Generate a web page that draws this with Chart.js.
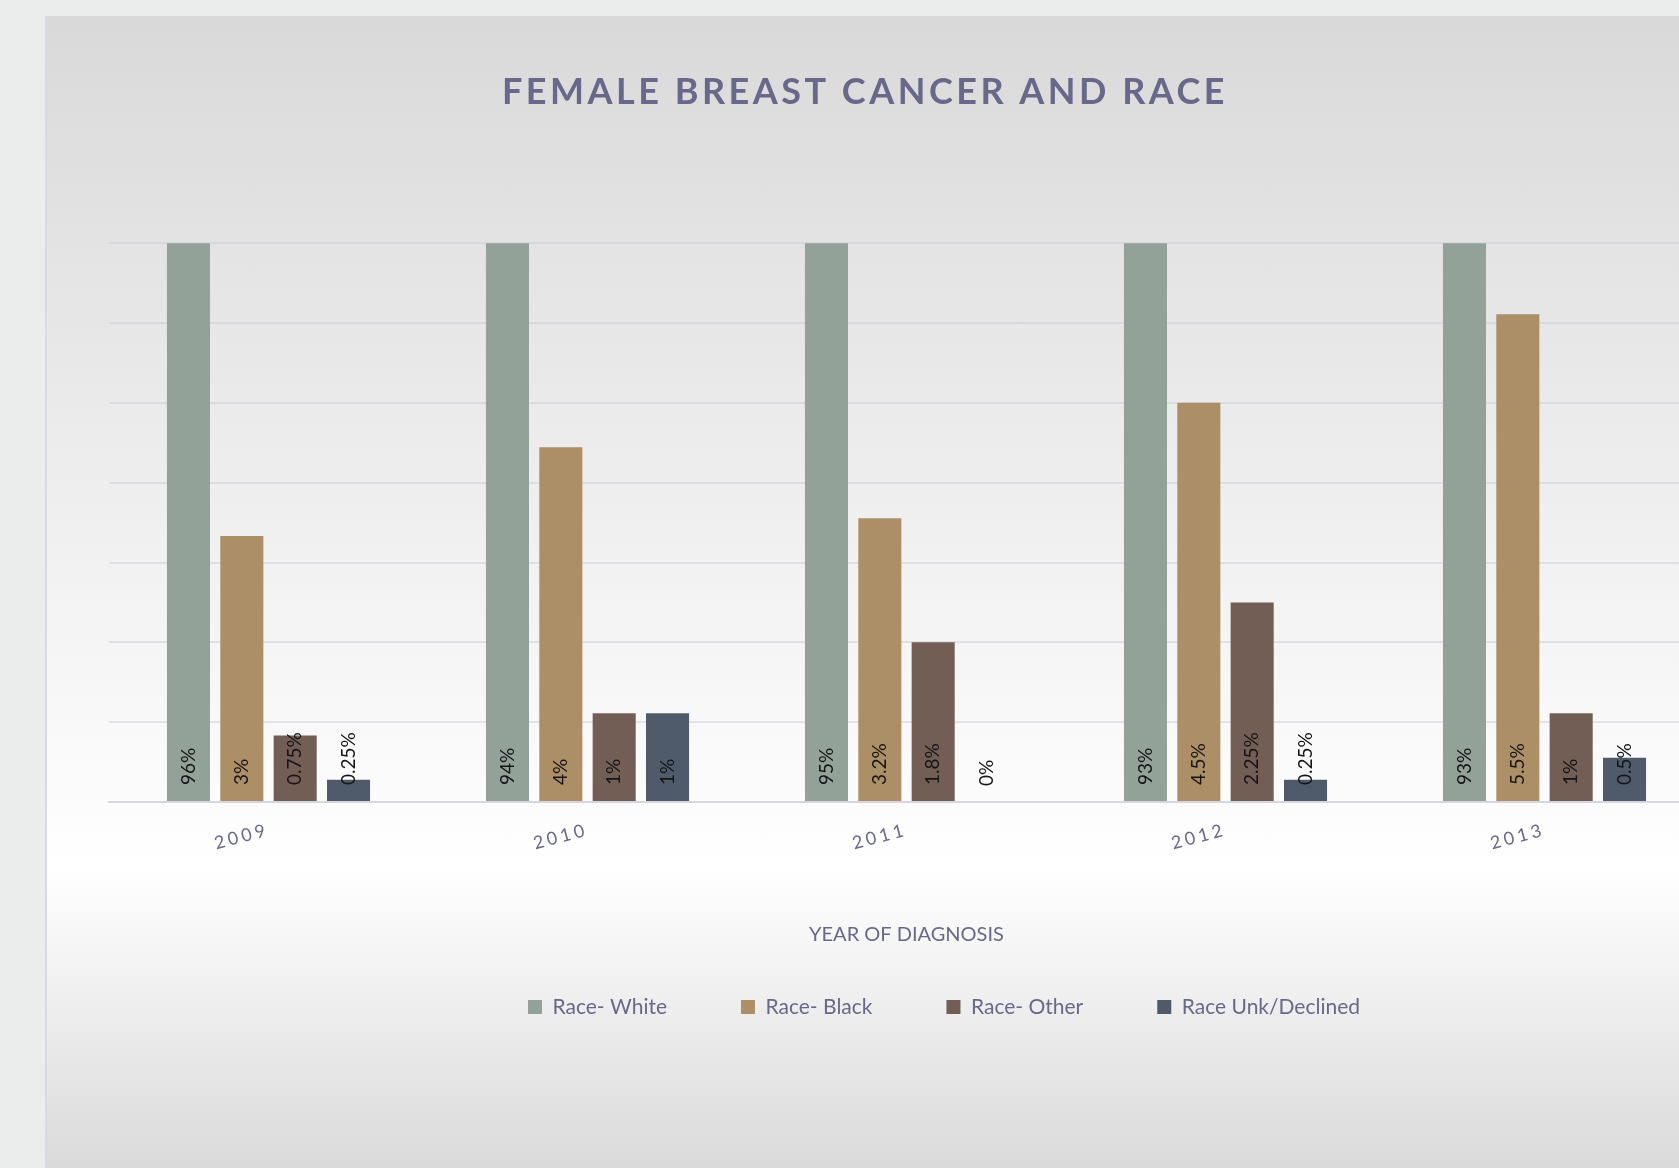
<!DOCTYPE html>
<html>
<head>
<meta charset="utf-8">
<title>Female Breast Cancer and Race</title>
<script src="https://cdn.jsdelivr.net/npm/chart.js@4.4.1/dist/chart.umd.min.js"></script>
<style>
  html, body { margin: 0; padding: 0; width: 1679px; height: 1168px; overflow: hidden; background: #eaedeb; }
  #panel {
    position: absolute; left: 45px; top: 16px; width: 1702px; height: 1152px;
    border-left: 2px solid #d9d9e3;
    background: linear-gradient(to bottom, #d9d9d9 0%, #ffffff 74%, #dadada 100%);
  }
  #wrap { position: absolute; left: 0; top: 0; width: 1700px; height: 1152px; }
</style>
</head>
<body>
<div id="panel"><div id="wrap"><canvas id="chart" width="1700" height="1152"></canvas></div></div>
<script>
// Year of diagnosis
const years = ['2009', '2010', '2011', '2012', '2013'];

// Share of cases per race group, in percent
const raceWhite = [96, 94, 95, 93, 93];
const raceBlack = [3, 4, 3.2, 4.5, 5.5];
const raceOther = [0.75, 1, 1.8, 2.25, 1];
const raceUnk   = [0.25, 1, 0, 0.25, 0.5];

const seriesNames = ['Race- White', 'Race- Black', 'Race- Other', 'Race Unk/Declined'];
const seriesValues = [raceWhite, raceBlack, raceOther, raceUnk];
const seriesColors = ['#93a299', '#ad8f67', '#725e55', '#4f5b6b'];

const INK = '#68688a';
const FONT = 'Lato, "Open Sans", sans-serif';

// Wraps a drawing method so its text is drawn with extra letter spacing.
function withSpacing(obj, method, px) {
  const flag = '_spaced_' + method;
  if (obj[flag]) return;
  const orig = obj[method];
  obj[method] = function (...args) {
    const c = this.ctx;
    const prev = c.letterSpacing;
    c.letterSpacing = px + 'px';
    try { return orig.apply(this, args); } finally { c.letterSpacing = prev; }
  };
  obj[flag] = true;
}

// Moves the title and legend boxes and spaces out the title / year labels.
const boxTweaks = {
  id: 'boxTweaks',
  afterLayout(chart, args, o) {
    const t = chart.titleBlock;
    if (t) {
      t.left += o.titleShift; t.right += o.titleShift;
      withSpacing(t, 'draw', o.titleSpacing);
    }
    const lg = chart.legend;
    if (lg) {
      lg.left += o.legendShift; lg.right += o.legendShift;
      const lo = lg.options.labels;
      const itemHeight = Math.max(o.legendFontSize, lo.boxHeight || o.legendFontSize);
      const h = lg.height;
      lg.top = o.legendTextY - lo.padding - itemHeight / 2;
      lg.bottom = lg.top + h;
    }
    if (chart.scales.x) withSpacing(chart.scales.x, 'drawLabels', o.tickSpacing);
  }
};

// Value labels written upward from the foot of each bar.
const barLabels = {
  id: 'barLabels',
  afterDatasetsDraw(chart, args, o) {
    const ctx = chart.ctx;
    ctx.save();
    ctx.font = o.font;
    ctx.fillStyle = o.color;
    ctx.textAlign = 'left';
    ctx.textBaseline = 'middle';
    chart.data.datasets.forEach((ds, di) => {
      const meta = chart.getDatasetMeta(di);
      meta.data.forEach((bar, i) => {
        ctx.save();
        ctx.translate(bar.x, bar.base - o.inset);
        ctx.rotate(-Math.PI / 2);
        ctx.fillText(ds.data[i] + '%', 0, 0);
        ctx.restore();
      });
    });
    ctx.restore();
  }
};

const datasets = seriesNames.map((name, k) => ({
  label: name,
  data: seriesValues[k],
  backgroundColor: seriesColors[k],
  borderWidth: 0,
  clip: 0,
  categoryPercentage: 0.669,
  barPercentage: 0.807
}));

new Chart(document.getElementById('chart'), {
  type: 'bar',
  data: { labels: years, datasets },
  plugins: [boxTweaks, barLabels],
  options: {
    responsive: false,
    animation: false,
    devicePixelRatio: 1,
    layout: { padding: { left: 62, right: 43, top: 0, bottom: 91 } },
    scales: {
      x: {
        grid: { display: false, drawTicks: false },
        border: { display: true, color: '#d6d6e1', width: 2 },
        ticks: {
          color: INK, font: { family: FONT, size: 18 },
          minRotation: 15, maxRotation: 15, autoSkip: false, padding: 17
        },
        title: {
          display: true, text: 'YEAR OF DIAGNOSIS', color: INK,
          font: { family: FONT, size: 20 }, padding: { top: 0, bottom: 25 }
        },
        afterFit(s) { s.height = 170; }
      },
      y: {
        min: 0, max: 6.3,
        ticks: { display: false, stepSize: 0.9 },
        grid: { color: 'rgba(200,200,214,0.45)', lineWidth: 2, drawTicks: false },
        border: { display: false },
        afterFit(s) { s.width = 0; }
      }
    },
    plugins: {
      tooltip: { enabled: false },
      title: {
        display: true, text: 'FEMALE BREAST CANCER AND RACE', color: INK,
        font: { family: FONT, size: 36, weight: 'bold' },
        padding: { top: 55, bottom: 129 }
      },
      legend: {
        position: 'bottom',
        labels: {
          color: INK, font: { family: FONT, size: 21 },
          boxWidth: 14, boxHeight: 14, padding: 74
        }
      },
      boxTweaks: {
        titleShift: -41.5, titleSpacing: 3.5,
        legendShift: 37.5, legendTextY: 991, legendFontSize: 21,
        tickSpacing: 3.5
      },
      barLabels: { font: '19px ' + FONT, color: '#151515', inset: 16 }
    }
  }
});
</script>
</body>
</html>
